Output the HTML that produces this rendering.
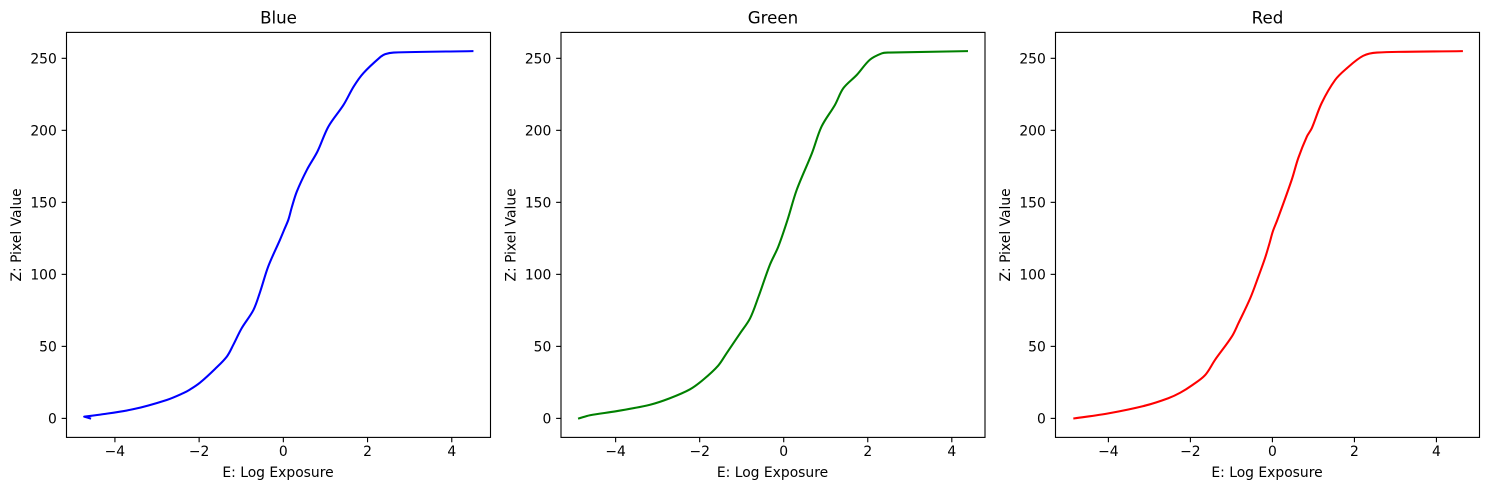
<!DOCTYPE html>
<html lang="en">
<head>
<meta charset="utf-8">
<title>Camera response curves</title>
<style>
  html, body { margin: 0; padding: 0; background: #fff; }
  svg { display: block; }
  text { font-family: "DejaVu Sans", "Liberation Sans", sans-serif; fill: #000; }
</style>
</head>
<body>
<svg id="chart" xmlns="http://www.w3.org/2000/svg" width="1489" height="490" viewBox="0 0 1489 490"></svg>
<script>
const blueExposure = [-4.59,-4.73,-4.35,-3.56,-2.77,-2.38,-2.22,-1.98,-1.62,-1.34,-1.19,-0.99,-0.71,-0.55,-0.36,-0.08,0.02,0.12,0.2,0.32,0.56,0.81,1.07,1.43,1.67,1.9,2.3,2.42,2.62,4.49];
const bluePixel = [0,1.2,2.6,6.4,12.8,17.5,20,24.8,34.4,43,51,62.6,75.3,88,105.4,124,131,138,146.5,157.5,172.6,185.3,202.6,217.7,230.4,239.7,250.8,252.9,254,255];
const greenExposure = [-4.87,-4.61,-3.98,-3.18,-2.71,-2.23,-1.91,-1.56,-1.36,-1.04,-0.8,-0.6,-0.33,-0.13,0.09,0.31,0.67,0.9,1.22,1.42,1.74,2.05,2.33,2.48,4.36];
const greenPixel = [0,2.2,5,9.5,14,20.2,27,36.6,45.2,59,69.5,84.5,106.6,119.2,137.8,158.7,184,202.6,217.7,229.3,238.5,249,253.4,254,255];
const redExposure = [-4.83,-4,-3.1,-2.54,-2.25,-1.95,-1.64,-1.4,-0.99,-0.83,-0.54,-0.34,-0.18,-0.07,0.01,0.12,0.47,0.63,0.84,0.96,1.2,1.53,1.81,2.21,2.55,4.62];
const redPixel = [0,3.5,8.9,14,17.8,23.2,30.1,40.6,56.8,66,83.5,98.6,111.3,121.7,129.8,137.8,165.6,180.7,195.7,201.5,218.9,235,243,251.7,254,255];
const xTickValues = [-4,-2,0,2,4];
const yTickValues = [0,50,100,150,200,250];
const panelTitles = ["Blue","Green","Red"];
const panelColors = ["#0000ff","#008000","#ff0000"];
const panelExposures = [blueExposure, greenExposure, redExposure];
const panelPixels = [bluePixel, greenPixel, redPixel];
const panelLefts = [66.5, 561, 1055.5];
const panelXMin = [-5.15, -5.30, -5.29];
const panelXMax = [4.92, 4.79, 5.05];

const svgNS = "http://www.w3.org/2000/svg";
const chart = document.getElementById("chart");
const AXES_WIDTH = 424, AXES_TOP = 32.4, AXES_BOTTOM = 437.4;
const Y_MIN = -13.2, Y_MAX = 268;

function make(parent, tag, attrs, content) {
  const el = document.createElementNS(svgNS, tag);
  for (const k in attrs) el.setAttribute(k, attrs[k]);
  if (content !== undefined) el.textContent = content;
  parent.appendChild(el);
  return el;
}
function yScale(v) {
  return AXES_BOTTOM - (v - Y_MIN) / (Y_MAX - Y_MIN) * (AXES_BOTTOM - AXES_TOP);
}
function fmt(v) {
  return String(v).replace("-", "\u2212");
}
// Smooth path through the scaled points; sharp reversals stay as corners.
function smoothPath(pts) {
  const tangents = pts.map(function (p, i) {
    const a = pts[Math.max(i - 1, 0)], b = pts[Math.min(i + 1, pts.length - 1)];
    const inX = p[0] - a[0], inY = p[1] - a[1], outX = b[0] - p[0], outY = b[1] - p[1];
    if (inX * outX + inY * outY < 0) return [0, 0];
    const dx = b[0] - a[0], dy = b[1] - a[1], len = Math.hypot(dx, dy) || 1;
    return [dx / len, dy / len];
  });
  let d = "M" + pts[0][0].toFixed(2) + " " + pts[0][1].toFixed(2);
  for (let i = 0; i < pts.length - 1; i++) {
    const p = pts[i], q = pts[i + 1];
    const h = Math.hypot(q[0] - p[0], q[1] - p[1]) / 3;
    d += "C" + (p[0] + tangents[i][0] * h).toFixed(2) + " " + (p[1] + tangents[i][1] * h).toFixed(2) +
         " " + (q[0] - tangents[i + 1][0] * h).toFixed(2) + " " + (q[1] - tangents[i + 1][1] * h).toFixed(2) +
         " " + q[0].toFixed(2) + " " + q[1].toFixed(2);
  }
  return d;
}

panelTitles.forEach(function (title, p) {
  const left = panelLefts[p], center = left + AXES_WIDTH / 2;
  const xScale = function (v) {
    return left + (v - panelXMin[p]) / (panelXMax[p] - panelXMin[p]) * AXES_WIDTH;
  };
  const key = title.toLowerCase();

  const group = make(chart, "g", {});
  
  

  const scaled = panelExposures[p].map(function (x, i) {
    return [xScale(x), yScale(panelPixels[p][i])];
  });
  const curve = make(group, "path", {
    d: smoothPath(scaled), fill: "none", stroke: panelColors[p],
    "stroke-width": 2.08, "stroke-linejoin": "round", "stroke-linecap": "square"
  });
  
  

  const frame = make(group, "rect", {
    x: left, y: AXES_TOP, width: AXES_WIDTH, height: AXES_BOTTOM - AXES_TOP,
    fill: "none", stroke: "#000", "stroke-width": 1.11
  });
  
  

  xTickValues.forEach(function (v) {
    const x = xScale(v);
    const tick = make(group, "line", {
      x1: x, x2: x, y1: AXES_BOTTOM, y2: AXES_BOTTOM + 4.86, stroke: "#000", "stroke-width": 1.11
    });
    
    
    const label = make(group, "text", {
      x: x, y: 456, "text-anchor": "middle", "font-size": 13.89
    }, fmt(v));
    
    
  });

  yTickValues.forEach(function (v) {
    const y = yScale(v);
    const tick = make(group, "line", {
      x1: left - 4.86, x2: left, y1: y, y2: y, stroke: "#000", "stroke-width": 1.11
    });
    
    
    const label = make(group, "text", {
      x: left - 9.7, y: y + 5.2, "text-anchor": "end", "font-size": 13.89
    }, fmt(v));
    
    
  });

  const titleEl = make(group, "text", {
    x: center, y: 23.5, "text-anchor": "middle", "font-size": 16.67
  }, title);
  
  

  const xLabel = make(group, "text", {
    x: center - 0.5, y: 477, "text-anchor": "middle", "font-size": 13.89
  }, "E: Log Exposure");
  
  

  const yx = left - 45.5, yy = (AXES_TOP + AXES_BOTTOM) / 2;
  const yLabel = make(group, "text", {
    x: yx, y: yy, "text-anchor": "middle", "font-size": 13.89,
    transform: "rotate(-90 " + yx + " " + yy + ")"
  }, "Z: Pixel Value");
  
  
});
</script>
</body>
</html>
